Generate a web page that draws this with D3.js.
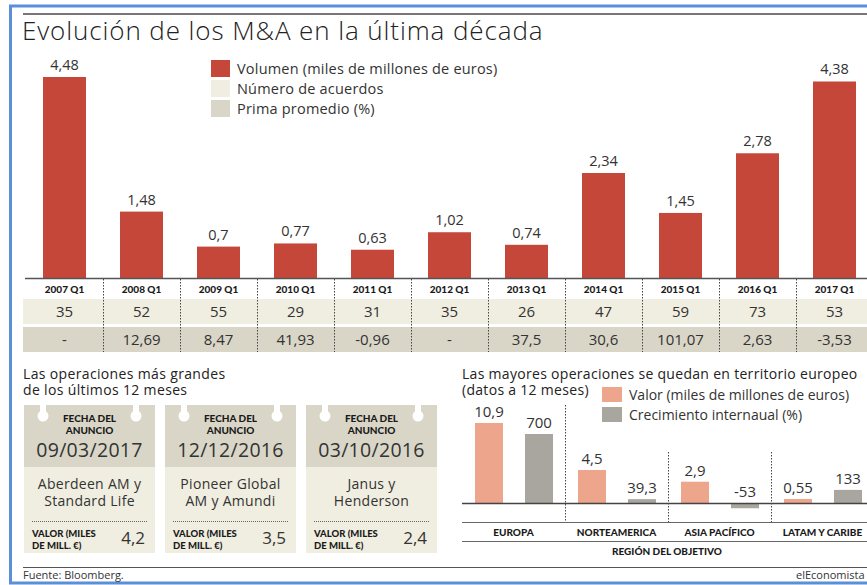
<!DOCTYPE html>
<html>
<head>
<meta charset="utf-8">
<script src="https://cdn.jsdelivr.net/npm/d3@7"></script>
<style>
  body { margin: 0; background: #fff; }
  svg { display: block; font-family: "Open Sans", Lato, sans-serif; }
  .negrita { font-family: Lato, "Open Sans", sans-serif; font-weight: 900; fill: #1a1a1a; }
</style>
</head>
<body>
<div id="chart"></div>
<script>
// datos del grafico principal
var trimestres = ["2007 Q1", "2008 Q1", "2009 Q1", "2010 Q1", "2011 Q1", "2012 Q1", "2013 Q1", "2014 Q1", "2015 Q1", "2016 Q1", "2017 Q1"];
var volumen = [4.48, 1.48, 0.7, 0.77, 0.63, 1.02, 0.74, 2.34, 1.45, 2.78, 4.38];
var acuerdos = [35, 52, 55, 29, 31, 35, 26, 47, 59, 73, 53];
var prima = [null, 12.69, 8.47, 41.93, -0.96, null, 37.5, 30.6, 101.07, 2.63, -3.53];
var leyendaPrincipal = ["Volumen (miles de millones de euros)", "Número de acuerdos", "Prima promedio (%)"];

// operaciones mas grandes
var fechas = ["09/03/2017", "12/12/2016", "03/10/2016"];
var operaciones = [["Aberdeen AM y", "Standard Life"], ["Pioneer Global", "AM y Amundi"], ["Janus y", "Henderson"]];
var valoresOp = [4.2, 3.5, 2.4];

// regiones
var regiones = ["EUROPA", "NORTEAMERICA", "ASIA PACÍFICO", "LATAM Y CARIBE"];
var valorRegion = [10.9, 4.5, 2.9, 0.55];
var crecimiento = [700, 39.3, -53, 133];

var fmt = function(v) {
  if (v === null) return "-";
  return String(v).replace(".", ",");
};

var W = 867, H = 585;
var rojo = "#c4473a", crema = "#f0eee0", beige = "#d9d6c8", rosa = "#eda58c", gris = "#a9a69f";
var texto = "#333";

var svg = d3.select("#chart").append("svg")
    .attr("width", W)
    .attr("height", H);

// marco azul y linea de cabecera
svg.append("rect").attr("x", 10.5).attr("y", 6).attr("width", W + 20).attr("height", 577)
    .attr("fill", "none").attr("stroke", "#5b8fd8").attr("stroke-width", 3);
svg.append("line").attr("x1", 23).attr("x2", W).attr("y1", 14).attr("y2", 14)
    .attr("stroke", "#777").attr("stroke-width", 2);

svg.append("text")
    .attr("x", 22).attr("y", 40)
    .attr("font-size", 26).attr("font-weight", 300).attr("letter-spacing", 0.9).attr("fill", "#222")
    .text("Evolución de los M&A en la última década");

// ---------- barras principales ----------
var x = d3.scaleBand().domain(trimestres).range([26, 26 + 77 * 11]);
var y = d3.scaleLinear().domain([0, 4.48]).range([278, 77]);
var bw = 43;

svg.append("g").selectAll("rect")
    .data(trimestres)
    .enter().append("rect")
    .attr("x", function(d) { return x(d) + (x.bandwidth() - bw) / 2; })
    .attr("y", function(d, i) { return y(volumen[i]); })
    .attr("width", bw)
    .attr("height", function(d, i) { return y(0) - y(volumen[i]); })
    .attr("fill", rojo);

svg.append("g").selectAll("text")
    .data(trimestres)
    .enter().append("text")
    .attr("x", function(d) { return x(d) + x.bandwidth() / 2; })
    .attr("y", function(d, i) { return y(volumen[i]) - 7; })
    .attr("text-anchor", "middle")
    .attr("font-size", 14.5).attr("fill", texto)
    .text(function(d, i) { return fmt(volumen[i]); });

// leyenda
var legColors = [rojo, crema, beige];
var leg = svg.append("g").selectAll("g")
    .data(leyendaPrincipal)
    .enter().append("g")
    .attr("transform", function(d, i) { return "translate(211," + (60 + i * 20) + ")"; });
leg.append("rect").attr("width", 19).attr("height", 17)
    .attr("fill", function(d, i) { return legColors[i]; });
leg.append("text").attr("x", 26).attr("y", 13.5)
    .attr("font-size", 14.5).attr("letter-spacing", 0.2).attr("fill", texto)
    .text(function(d) { return d; });

// tabla
svg.append("rect").attr("x", 23).attr("y", 299).attr("width", W - 23).attr("height", 25).attr("fill", crema);
svg.append("rect").attr("x", 23).attr("y", 327).attr("width", W - 23).attr("height", 25).attr("fill", beige);

svg.append("line").attr("x1", 25).attr("x2", W).attr("y1", 278.5).attr("y2", 278.5)
    .attr("stroke", "#555").attr("stroke-width", 1.5);

svg.append("g").selectAll("line")
    .data(trimestres.slice(1))
    .enter().append("line")
    .attr("x1", function(d) { return x(d) + 0.5; })
    .attr("x2", function(d) { return x(d) + 0.5; })
    .attr("y1", 279).attr("y2", 352)
    .attr("stroke", "#444").attr("stroke-width", 1).attr("stroke-dasharray", "1.5,1.5");

svg.append("g").selectAll("text")
    .data(trimestres)
    .enter().append("text")
    .attr("class", "negrita")
    .attr("x", function(d) { return x(d) + x.bandwidth() / 2; })
    .attr("y", 293)
    .attr("text-anchor", "middle")
    .attr("font-size", 10)
    .text(function(d) { return d; });

var filas = [
  { vals: acuerdos, y: 317, f: function(d) { return d; } },
  { vals: prima, y: 345, f: fmt }
];
filas.forEach(function(fila) {
  svg.append("g").selectAll("text")
      .data(fila.vals)
      .enter().append("text")
      .attr("x", function(d, i) { return x(trimestres[i]) + x.bandwidth() / 2; })
      .attr("y", fila.y)
      .attr("text-anchor", "middle")
      .attr("font-size", 15).attr("fill", texto)
      .text(fila.f);
});

// ---------- operaciones mas grandes ----------
svg.append("text").attr("x", 23).attr("y", 379).attr("font-size", 14).attr("letter-spacing", 0.35).attr("fill", "#222")
    .text("Las operaciones más grandes");
svg.append("text").attr("x", 23).attr("y", 395).attr("font-size", 14).attr("letter-spacing", 0.35).attr("fill", "#222")
    .text("de los últimos 12 meses");

var tickets = svg.append("g").selectAll("g")
    .data(fechas)
    .enter().append("g")
    .attr("transform", function(d, i) { return "translate(" + (24 + i * 141) + ",0)"; });

tickets.append("rect").attr("y", 405).attr("width", 131).attr("height", 62).attr("fill", beige);
tickets.append("rect").attr("y", 467).attr("width", 131).attr("height", 86).attr("fill", crema);
[19, 112].forEach(function(cx) {
  tickets.append("circle").attr("cx", cx).attr("cy", 416).attr("r", 5.5).attr("fill", "#fff");
  tickets.append("rect").attr("x", cx - 3).attr("y", 404).attr("width", 6).attr("height", 11).attr("fill", "#fff");
});
tickets.append("text").attr("class", "negrita").attr("x", 65.5).attr("y", 422).attr("text-anchor", "middle")
    .attr("font-size", 10).text("FECHA DEL");
tickets.append("text").attr("class", "negrita").attr("x", 65.5).attr("y", 434).attr("text-anchor", "middle")
    .attr("font-size", 10).text("ANUNCIO");
tickets.append("text").attr("x", 65.5).attr("y", 457).attr("text-anchor", "middle")
    .attr("font-size", 19.5).attr("letter-spacing", 0.3).attr("fill", texto).text(function(d) { return d; });
tickets.append("text").attr("x", 65.5).attr("y", 489).attr("text-anchor", "middle")
    .attr("font-size", 14).attr("letter-spacing", 0.3).attr("fill", texto).text(function(d, i) { return operaciones[i][0]; });
tickets.append("text").attr("x", 65.5).attr("y", 506).attr("text-anchor", "middle")
    .attr("font-size", 14).attr("letter-spacing", 0.3).attr("fill", texto).text(function(d, i) { return operaciones[i][1]; });
tickets.append("line").attr("x1", 8).attr("x2", 123).attr("y1", 521.5).attr("y2", 521.5)
    .attr("stroke", "#666").attr("stroke-dasharray", "1,1");
tickets.append("text").attr("class", "negrita").attr("x", 8).attr("y", 537)
    .attr("font-size", 9.5).text("VALOR (MILES");
tickets.append("text").attr("class", "negrita").attr("x", 8).attr("y", 549)
    .attr("font-size", 9.5).text("DE MILL. €)");
tickets.append("text").attr("x", 121).attr("y", 544).attr("text-anchor", "end")
    .attr("font-size", 17).attr("fill", texto).text(function(d, i) { return fmt(valoresOp[i]); });

// ---------- regiones ----------
svg.append("text").attr("x", 462).attr("y", 379).attr("font-size", 14).attr("letter-spacing", 0.3).attr("fill", "#222")
    .text("Las mayores operaciones se quedan en territorio europeo");
svg.append("text").attr("x", 462).attr("y", 395).attr("font-size", 14).attr("letter-spacing", 0.3).attr("fill", "#222")
    .text("(datos a 12 meses)");

var leg2 = [["Valor (miles de millones de euros)", rosa], ["Crecimiento internaual (%)", gris]];
var lg2 = svg.append("g").selectAll("g")
    .data(leg2)
    .enter().append("g")
    .attr("transform", function(d, i) { return "translate(602," + (387 + i * 20) + ")"; });
lg2.append("rect").attr("width", 20).attr("height", 15).attr("fill", function(d) { return d[1]; });
lg2.append("text").attr("x", 27).attr("y", 12.5).attr("font-size", 14).attr("fill", texto)
    .text(function(d) { return d[0]; });

var xr = d3.scaleBand().domain(regiones).range([462, 462 + 103 * 4]);
var xi = d3.scaleBand().domain(["valor", "crec"]).range([13, 91]).paddingInner(0.44);
var yv = d3.scaleLinear().domain([0, 10.9]).range([503, 423]);
var yc = d3.scaleLinear().domain([0, 700]).range([503, 434]);

var series = [
  { key: "valor", vals: valorRegion, sc: yv, color: rosa },
  { key: "crec", vals: crecimiento, sc: yc, color: gris }
];
series.forEach(function(s) {
  svg.append("g").selectAll("rect")
      .data(regiones)
      .enter().append("rect")
      .attr("x", function(d) { return xr(d) + xi(s.key); })
      .attr("y", function(d, i) { return Math.min(s.sc(s.vals[i]), s.sc(0)); })
      .attr("width", xi.bandwidth())
      .attr("height", function(d, i) { return Math.abs(s.sc(0) - s.sc(s.vals[i])); })
      .attr("fill", s.color);
  svg.append("g").selectAll("text")
      .data(regiones)
      .enter().append("text")
      .attr("x", function(d) { return xr(d) + xi(s.key) + xi.bandwidth() / 2; })
      .attr("y", function(d, i) { return Math.min(s.sc(s.vals[i]), s.sc(0)) - 6; })
      .attr("text-anchor", "middle")
      .attr("font-size", 15).attr("fill", texto)
      .text(function(d, i) { return fmt(s.vals[i]); });
});

svg.append("line").attr("x1", 462).attr("x2", W).attr("y1", 503.5).attr("y2", 503.5)
    .attr("stroke", "#444").attr("stroke-width", 1.5);
svg.append("line").attr("x1", 462).attr("x2", W).attr("y1", 522.5).attr("y2", 522.5)
    .attr("stroke", "#666").attr("stroke-width", 1);
svg.append("line").attr("x1", 462).attr("x2", W).attr("y1", 541.5).attr("y2", 541.5)
    .attr("stroke", "#666").attr("stroke-width", 1);

svg.append("g").selectAll("line")
    .data(regiones.slice(1))
    .enter().append("line")
    .attr("x1", function(d) { return xr(d) + 0.5; })
    .attr("x2", function(d) { return xr(d) + 0.5; })
    .attr("y1", function(d, i) { return i == 0 ? 405 : 452; })
    .attr("y2", 522)
    .attr("stroke", "#444").attr("stroke-dasharray", "1.5,1.5");

svg.append("g").selectAll("text")
    .data(regiones)
    .enter().append("text")
    .attr("class", "negrita")
    .attr("x", function(d) { return xr(d) + xr.bandwidth() / 2; })
    .attr("y", 536)
    .attr("text-anchor", "middle")
    .attr("font-size", 10)
    .text(function(d) { return d; });
svg.append("text").attr("class", "negrita").attr("x", 667).attr("y", 555).attr("text-anchor", "middle")
    .attr("font-size", 10)
    .text("REGIÓN DEL OBJETIVO");

// pie
svg.append("line").attr("x1", 23).attr("x2", W).attr("y1", 567.5).attr("y2", 567.5)
    .attr("stroke", "#555").attr("stroke-width", 1);
svg.append("text").attr("x", 23).attr("y", 579).attr("font-size", 11).attr("fill", texto)
    .text("Fuente: Bloomberg.");
svg.append("text").attr("x", 796).attr("y", 579).attr("font-size", 11).attr("fill", texto)
    .text("elEconomista");
</script>
</body>
</html>
